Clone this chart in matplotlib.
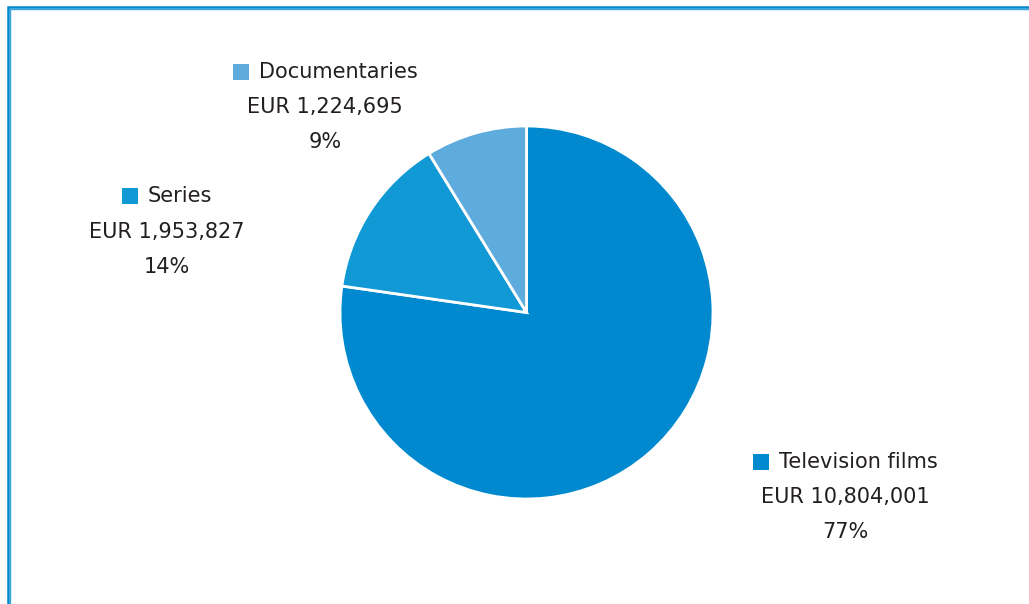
import matplotlib.pyplot as plt
from matplotlib.lines import Line2D
from matplotlib.patches import Rectangle
from matplotlib.offsetbox import (AnnotationBbox, DrawingArea, HPacker,
                                  TextArea, VPacker)

plt.rcParams['font.family'] = ['DejaVu Sans']

categories = ['Television films', 'Series', 'Documentaries']
amounts = [10804001, 1953827, 1224695]
shares = [77, 14, 9]
colors = ['#0089cf', '#1099d5', '#5eabdd']

# label anchor points in axes coordinates (pie spans -1..1)
label_pos = [(1.71, -0.99), (-1.93, 0.434), (-1.08, 1.103)]

W, H = 1029, 604
DPI = 100
fig = plt.figure(figsize=(W / DPI, H / DPI), dpi=DPI)
fig.patch.set_facecolor('white')

# frame along left and top edge
px = lambda x, y: (x / W, 1 - y / H)
for off, col, lw in [(0, '#0088cc', 1.8), (1.8, '#3aa6df', 1.0)]:
    fig.add_artist(Line2D([px(7.8 + off, 0)[0], px(7.8 + off, 0)[0], 1],
                          [0, px(0, 7.2 + off)[1], px(0, 7.2 + off)[1]],
                          transform=fig.transFigure, color=col, lw=lw,
                          solid_joinstyle='miter'))

cx, cy, r = 526.5, 312.5, 186.5
ax = fig.add_axes([(cx - r) / W, (H - cy - r) / H, 2 * r / W, 2 * r / H])
ax.pie(amounts, colors=colors, startangle=90, counterclock=False, radius=1,
       wedgeprops=dict(edgecolor='white', linewidth=2.0))
ax.set_xlim(-1, 1)
ax.set_ylim(-1, 1)
ax.set_aspect('equal')
ax.axis('off')

txt = dict(fontsize=15, color='#231f20')
sq = 16 * 72 / DPI
for name, amt, pct, col, pos in zip(categories, amounts, shares, colors, label_pos):
    box = DrawingArea(sq, sq)
    box.add_artist(Rectangle((0, 0), sq, sq, facecolor=col, edgecolor='none'))
    row = HPacker(children=[box, TextArea(name, textprops=txt)],
                  align='center', pad=0, sep=7)
    lines = VPacker(children=[row,
                              TextArea(f'EUR {amt:,}', textprops=txt),
                              TextArea(f'{pct}%', textprops=txt)],
                    align='center', pad=0, sep=11)
    ab = AnnotationBbox(lines, pos, xycoords=ax.transData, frameon=False,
                        box_alignment=(0.5, 0.5), annotation_clip=False)
    ax.add_artist(ab)

fig.savefig('out.png', dpi=DPI, facecolor='white')
